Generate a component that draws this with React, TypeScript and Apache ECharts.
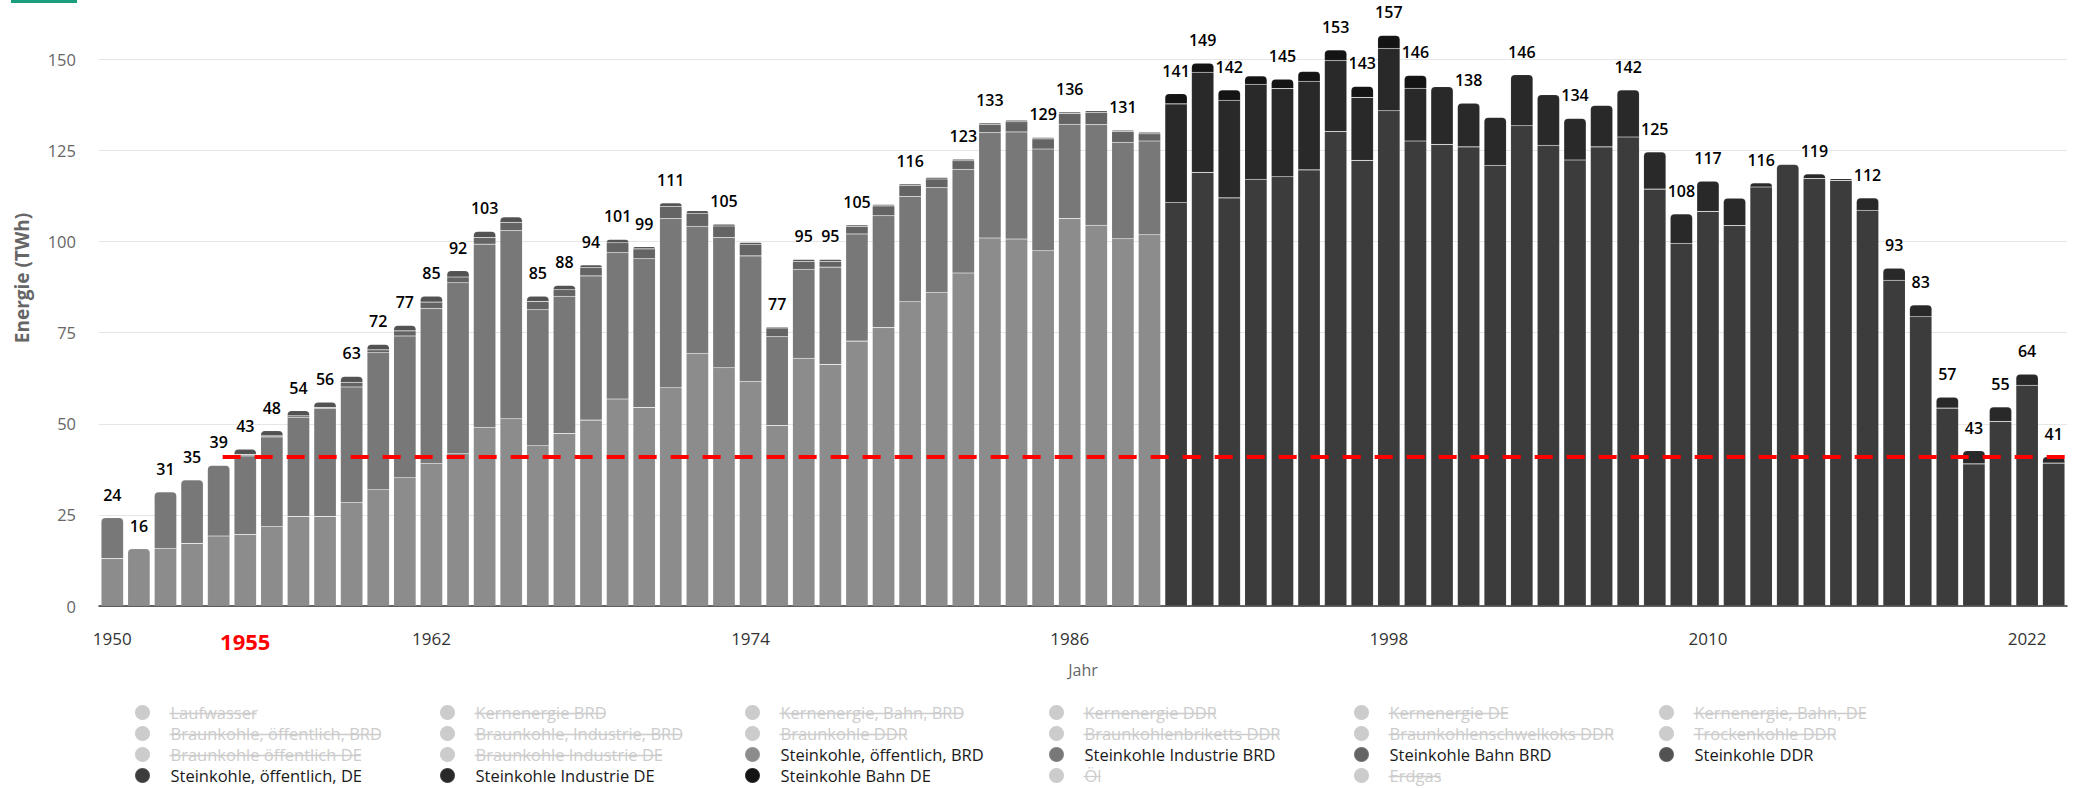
import React, { useEffect, useRef } from 'react';
import * as echarts from 'echarts';

// ---------- DATA ----------
const years = [
  '1950','1951','1952','1953','1954','1955','1956','1957','1958','1959',
  '1960','1961','1962','1963','1964','1965','1966','1967','1968','1969',
  '1970','1971','1972','1973','1974','1975','1976','1977','1978','1979',
  '1980','1981','1982','1983','1984','1985','1986','1987','1988','1989',
  '1990','1991','1992','1993','1994','1995','1996','1997','1998','1999',
  '2000','2001','2002','2003','2004','2005','2006','2007','2008','2009',
  '2010','2011','2012','2013','2014','2015','2016','2017','2018','2019',
  '2020','2021','2022','2023',
];

const N40 = [null,null,null,null,null,null,null,null,null,null,null,null,null,null,null,null,null,null,null,null,
  null,null,null,null,null,null,null,null,null,null,null,null,null,null,null,null,null,null,null,null];
const N34 = [null,null,null,null,null,null,null,null,null,null,null,null,null,null,null,null,null,null,null,null,
  null,null,null,null,null,null,null,null,null,null,null,null,null,null];

// 1950-1989
const steinOeffBRD = [13.0, 15.7, 15.8, 17.2, 19.2, 19.6, 21.8, 24.6, 24.6, 28.4,
  31.9, 35.2, 39.1, 41.8, 49.0, 51.4, 44.0, 47.3, 51.0, 56.8,
  54.5, 59.9, 69.3, 65.4, 61.6, 49.5, 68.0, 66.3, 72.7, 76.4,
  83.5, 86.1, 91.4, 101.0, 100.7, 97.5, 106.3, 104.5, 100.8, 101.9];
const steinIndBRD = [11.2, null, 15.5, 17.4, 19.4, 21.6, 24.6, 27.2, 29.6, 31.7,
  37.6, 38.9, 42.5, 46.9, 50.3, 51.6, 37.3, 37.7, 39.6, 40.2,
  40.8, 46.4, 34.9, 35.7, 34.5, 24.4, 24.4, 26.7, 29.4, 30.7,
  28.9, 28.7, 28.4, 28.9, 29.4, 27.9, 25.9, 27.6, 26.4, 25.7];
const steinBahnBRD = [null, null, null, null, null, 0.4, 0.3, 0.4, 0.3, 1.3,
  0.8, 1.4, 1.8, 1.6, 1.8, 2.3, 2.3, 1.8, 2.3, 2.7,
  2.7, 3.4, 3.6, 3.2, 3.2, 2.4, 2.2, 1.6, 2.1, 2.7,
  3.0, 2.4, 2.4, 2.3, 2.8, 2.8, 3.0, 3.4, 3.0, 2.0];
const steinDDR = [null, null, null, null, null, 1.4, 1.4, 1.4, 1.4, 1.6,
  1.5, 1.5, 1.6, 1.7, 1.7, 1.5, 1.4, 1.2, 0.7, 0.9,
  0.6, 0.9, 0.7, 0.5, 0.5, 0.3, 0.5, 0.5, 0.4, 0.4,
  0.4, 0.4, 0.4, 0.4, 0.4, 0.4, 0.4, 0.4, 0.4, 0.4];
// 1990-2023
const steinOeffDE = [110.8, 119.0, 112.0, 117.1, 117.8, 119.7, 130.2, 122.3, 135.9, 127.6,
  126.7, 126.0, 120.9, 131.8, 126.4, 122.4, 126.0, 128.7, 114.4, 99.5,
  108.3, 104.4, 115.0, 121.2, 117.3, 116.8, 108.6, 89.4, 79.4, 54.3,
  39.0, 50.6, 60.6, 39.2];
const steinIndDE = [27.0, 27.5, 26.8, 26.1, 24.2, 24.3, 19.5, 17.3, 17.1, 14.5,
  15.8, 12.0, 13.2, 14.0, 13.9, 11.4, 11.4, 12.9, 10.2, 8.1,
  8.3, 7.5, 1.1, null, 1.3, 0.5, 3.4, 3.3, 3.2, 3.0,
  3.6, 4.0, 3.0, 1.8];
const steinBahnDE = [2.8, 2.5, 2.8, 2.3, 2.6, 2.7, 2.9, 3.0, 3.6, 3.5,
  null, null, null, null, null, null, null, null, null, null,
  null, null, null, null, null, null, null, null, null, null,
  null, null, null, null];

const yTicks = [0, 25, 50, 75, 100, 125, 150];
const referenceValue = 41;
const referenceFromYear = '1954';
const highlightYear = '1955';
const hiddenLabelYears = ['1965','1972','1974','1979','1981','1984','1987','1989','1993','1995',
  '2000','2002','2004','2006','2011','2013','2015'];

const legendNames = [
  'Laufwasser', 'Kernenergie BRD', 'Kernenergie, Bahn, BRD', 'Kernenergie DDR', 'Kernenergie DE', 'Kernenergie, Bahn, DE',
  'Braunkohle, öffentlich, BRD', 'Braunkohle, Industrie, BRD', 'Braunkohle DDR', 'Braunkohlenbriketts DDR', 'Braunkohlenschwelkoks DDR', 'Trockenkohle DDR',
  'Braunkohle öffentlich DE', 'Braunkohle Industrie DE', 'Steinkohle, öffentlich, BRD', 'Steinkohle Industrie BRD', 'Steinkohle Bahn BRD', 'Steinkohle DDR',
  'Steinkohle, öffentlich, DE', 'Steinkohle Industrie DE', 'Steinkohle Bahn DE', 'Öl', 'Erdgas',
];

const visibleSeries = [
  { name: 'Steinkohle, öffentlich, BRD', data: [...steinOeffBRD, ...N34], color: '#8c8c8c' },
  { name: 'Steinkohle Industrie BRD', data: [...steinIndBRD, ...N34], color: '#787878' },
  { name: 'Steinkohle Bahn BRD', data: [...steinBahnBRD, ...N34], color: '#646464' },
  { name: 'Steinkohle DDR', data: [...steinDDR, ...N34], color: '#525252' },
  { name: 'Steinkohle, öffentlich, DE', data: [...N40, ...steinOeffDE], color: '#3c3c3c' },
  { name: 'Steinkohle Industrie DE', data: [...N40, ...steinIndDE], color: '#292929' },
  { name: 'Steinkohle Bahn DE', data: [...N40, ...steinBahnDE], color: '#141414' },
];

// ---------- LAYOUT / STYLE ----------
const FONT = '"Open Sans", "Noto Sans", sans-serif';
const LEGEND_FS = 16.5;
const GRID = { left: 99, right: 11, top: 23, bottom: 183 };
const LEGEND_TOP = 702;
const ROW_H = 21;
const ICON_W = 46;
const ICON_H = 15;
// text x relative to legend left (content is aligned by the circle's left edge)
const TEXT_OFFSET = ICON_W / 2 + 5 + ICON_H / 2;
const COL_X = [134, 439, 744, 1048, 1353, 1658];

function measure(text: string, font: string) {
  const c = document.createElement('canvas').getContext('2d')!;
  c.font = font;
  return c.measureText(text).width;
}

export default function App() {
  const ref = useRef<HTMLDivElement>(null);
  useEffect(() => {
    const chart = echarts.init(ref.current!, null, { renderer: 'svg' });
    const visibleNames = visibleSeries.map((s) => s.name);

    const totals = years.map((_, i) =>
      visibleSeries.reduce((acc, s) => acc + ((s.data[i] as number | null) || 0), 0));
    const topIdx = years.map((_, i) => {
      let t = -1;
      visibleSeries.forEach((s, k) => { if ((s.data[i] as number | null)) t = k; });
      return t;
    });

    const barSeries: any[] = visibleSeries.map((s, k) => ({
      type: 'bar',
      name: s.name,
      stack: 'total',
      barCategoryGap: '16%',
      itemStyle: { color: s.color, borderColor: 'rgba(255,255,255,0.12)', borderWidth: 0.6 },
      label: { show: false },
      emphasis: { disabled: true },
      data: s.data.map((v, i) => {
        if (v == null) return null;
        if (topIdx[i] !== k) return v;
        const total = Math.round(Math.round(totals[i] * 10) / 10);
        return {
          value: v,
          itemStyle: { borderRadius: [4, 4, 0, 0] },
          label: {
            show: !hiddenLabelYears.includes(years[i]),
            position: 'top',
            distance: 15,
            formatter: String(total),
            color: '#000',
            fontSize: 16,
            fontWeight: 600,
            fontFamily: FONT,
            textBorderColor: '#fff',
            textBorderWidth: 2,
          },
        };
      }),
    }));

    const hiddenSeries = legendNames
      .filter((n) => !visibleNames.includes(n))
      .map((n) => ({ type: 'bar', name: n, stack: 'total', data: [], itemStyle: { color: '#cccccc' } }));

    const selected: Record<string, boolean> = {};
    legendNames.forEach((n) => { selected[n] = visibleNames.includes(n); });

    const legends = COL_X.map((x, k) => ({
      orient: 'vertical',
      align: 'left',
      left: x,
      top: LEGEND_TOP,
      padding: 0,
      itemGap: 0,
      itemWidth: ICON_W,
      itemHeight: ICON_H,
      icon: 'circle',
      inactiveColor: '#cccccc',
      selectedMode: false,
      selected,
      data: legendNames.filter((_, i) => i % 6 === k),
      textStyle: { color: '#1a1a1a', fontSize: LEGEND_FS, fontFamily: FONT, lineHeight: ROW_H },
    }));

    const strikes: any[] = [];
    legendNames.forEach((n, i) => {
      if (visibleNames.includes(n)) return;
      const col = i % 6;
      const row = Math.floor(i / 6);
      const x1 = COL_X[col] + TEXT_OFFSET;
      const w = measure(n, `${LEGEND_FS}px ${FONT}`);
      const y = LEGEND_TOP + row * ROW_H + ROW_H / 2 + 1;
      strikes.push({ type: 'line', shape: { x1, y1: y, x2: x1 + w, y2: y }, style: { stroke: '#cccccc', lineWidth: 1.3 }, silent: true, z: 100 });
    });

    const option: any = {
      animation: false,
      grid: GRID,
      legend: legends,
      xAxis: {
        type: 'category',
        data: years,
        axisTick: { show: false },
        axisLine: { lineStyle: { color: '#333', width: 1.5 } },
        axisLabel: {
          interval: (idx: number, val: string) => idx % 12 === 0 || val === highlightYear,
          formatter: (val: string) => (val === highlightYear ? `{hl|${val}}` : val),
          color: '#333',
          fontSize: 17,
          fontFamily: FONT,
          margin: 24,
          rich: { hl: { color: '#ff0000', fontWeight: 'bold', fontSize: 22, fontFamily: FONT } },
        },
        name: 'Jahr',
        nameLocation: 'middle',
        nameGap: 56,
        nameTextStyle: { color: '#666', fontSize: 16, fontFamily: FONT },
      },
      yAxis: {
        type: 'value',
        min: 0,
        max: 160,
        interval: 25,
        axisLine: { show: false },
        axisTick: { show: false },
        axisLabel: {
          color: '#666',
          fontSize: 16.5,
          fontFamily: FONT,
          margin: 23,
          showMaxLabel: false,
          formatter: (v: number) => (yTicks.includes(v) ? String(v) : ''),
        },
        splitLine: { lineStyle: { color: '#e6e6e6', width: 1 }, showMaxLine: false },
      },
      series: [
        ...barSeries,
        ...hiddenSeries,
        {
          id: 'ref',
          type: 'line',
          name: 'Referenz',
          data: [],
          z: 20,
          markLine: {
            silent: true,
            symbol: ['none', 'none'],
            label: { show: false },
            lineStyle: { color: '#ff0000', width: 4, type: [18, 14] },
            data: [[{ coord: [referenceFromYear, referenceValue] }, { coord: [years[years.length - 1], referenceValue] }]],
          },
        },
      ],
      graphic: [
        { type: 'rect', left: 11, top: 0, shape: { width: 66, height: 3 }, style: { fill: '#1a9e7c' }, silent: true },
        {
          type: 'text', x: 22, y: 278, rotation: Math.PI / 2, silent: true,
          style: { text: 'Energie (TWh)', fill: '#666', fontSize: 19, fontWeight: 'bold', fontFamily: FONT, align: 'center', verticalAlign: 'middle' },
        },
        ...strikes,
      ],
    };
    chart.setOption(option);

    // extend the reference line to the right edge of the plot area, via the chart's own scales
    const p = chart.convertToPixel({ xAxisIndex: 0, yAxisIndex: 0 }, [referenceFromYear, referenceValue]) as number[];
    if (p && isFinite(p[0]) && isFinite(p[1])) {
      const xEnd = 2078 - GRID.right;
      chart.setOption({
        series: [{
          id: 'ref',
          markLine: { data: [[{ x: p[0] + 4, y: p[1] }, { x: xEnd, y: p[1] }]] },
        }],
      });
    }
    return () => chart.dispose();
  }, []);
  return <div ref={ref} style={{ position: 'absolute', left: 0, top: 0, width: 2078, height: 789 }} />;
}
